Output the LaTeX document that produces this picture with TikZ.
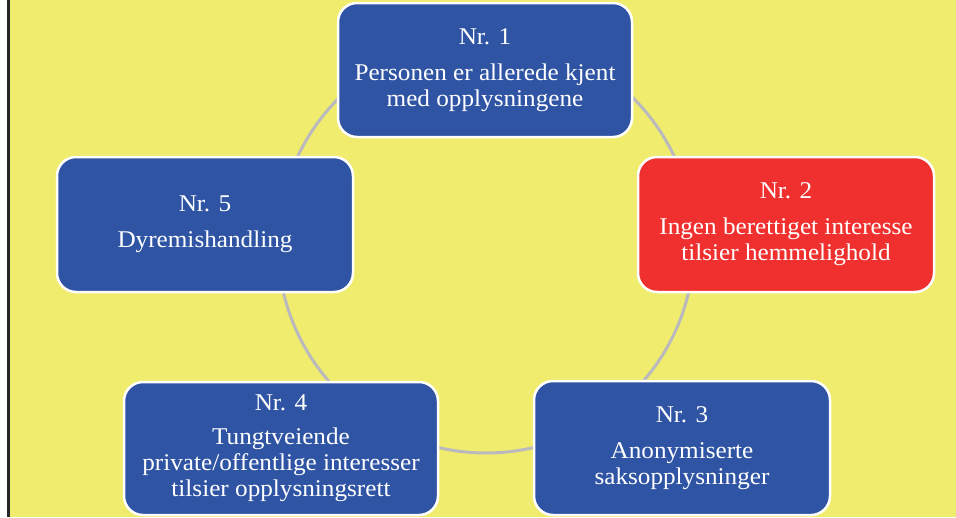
\documentclass[tikz,border=0pt]{standalone}
\usepackage{fontspec}
\setmainfont{Liberation Serif}[FakeStretch=1.05]
\usetikzlibrary{positioning}

\definecolor{bakgrunn}{RGB}{240,236,110}
\definecolor{blaa}{RGB}{47,84,164}
\definecolor{roed}{RGB}{240,48,46}
\definecolor{ring}{RGB}{185,185,190}

\tikzset{
  boks/.style={draw=white, line width=2.5pt, fill=blaa, rounded corners=19pt,
    text=white, align=center, inner sep=0pt,
    minimum width=294pt, minimum height=134pt,
    font=\fontsize{24}{26}\selectfont},
  rodboks/.style={boks, fill=roed}
}

\begin{document}
\begin{tikzpicture}[x=1pt, y=-1pt]

                % Bakgrunn
                \useasboundingbox (0,0) rectangle (956,517);
                \fill[white] (0,0) rectangle (956,517);
                \fill[bakgrunn] (10,0) rectangle (956,517);
                \fill[black!85] (7,0) rectangle (10,517);

                % Ring
                \draw[ring, line width=3pt] (486,245) circle (208);

                % Boksene
                \node[boks] (nr1) at (485,70) {Nr. 1\\[10pt]Personen er allerede kjent\\med opplysningene};
                \node[rodboks, minimum width=296pt, minimum height=135pt] (nr2) at (786,224.5) {Nr. 2\\[10pt]Ingen berettiget interesse\\tilsier hemmelighold};
                \node[boks, minimum width=296pt] (nr3) at (682,448) {Nr. 3\\[10pt]Anonymiserte\\saksopplysninger};
                \node[boks, minimum width=314pt, minimum height=133pt] (nr4) at (281,448.5) {Nr. 4\\[8pt]Tungtveiende\\private/offentlige interesser\\tilsier opplysningsrett};
                \node[boks, minimum width=296pt, minimum height=135pt] (nr5) at (205,224.5) {Nr. 5\\[10pt]Dyremishandling};

            \end{tikzpicture}
\end{document}
